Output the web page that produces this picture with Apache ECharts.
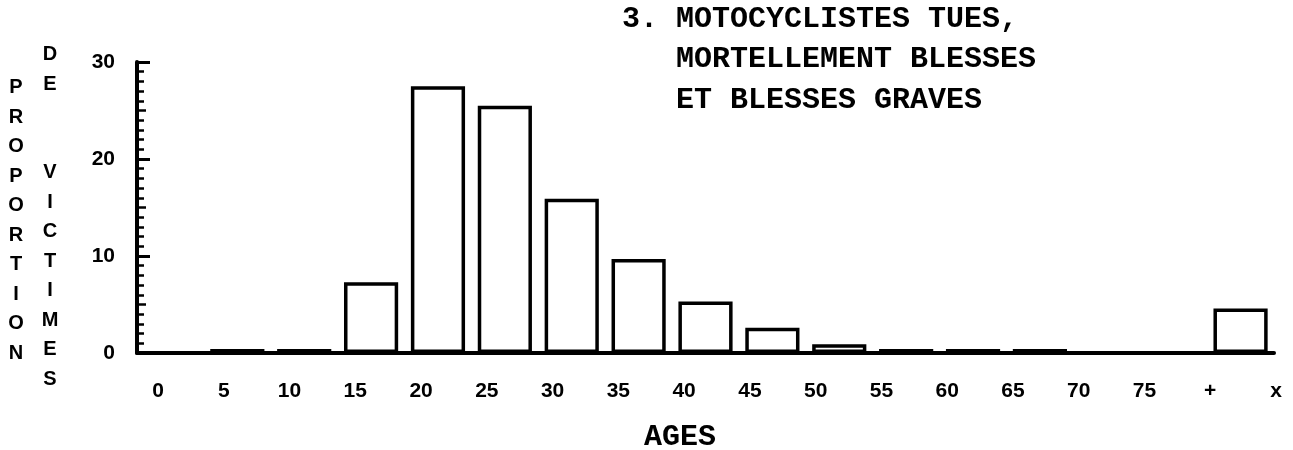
<!DOCTYPE html>
<html>
<head>
<meta charset="utf-8">
<script src="https://cdn.jsdelivr.net/npm/echarts@6/dist/echarts.min.js"></script>
<style>
html,body{margin:0;padding:0;background:#fff;}
#main{width:1293px;height:450px;}
</style>
</head>
<body>
<div id="main"></div>
<script>
// classes d'age (une barre par classe)
var ageBins=['0-5','5-10','10-15','15-20','20-25','25-30','30-35','35-40','40-45','45-50','50-55','55-60','60-65','65-70','70-75','75-+','+-x'];
// proportion de victimes (%)
var victimShare=[0,0.4,0.4,7.3,27.5,25.5,15.9,9.7,5.3,2.6,0.9,0.4,0.4,0.4,0,0,4.6];
// graduations sous l'axe
var xTickLabels=['0','5','10','15','20','25','30','35','40','45','50','55','60','65','70','75','+','x'];
var yMax=30;

var sansBold={fontFamily:'"Liberation Sans", Arial, sans-serif',fontWeight:'bold',fontSize:21,color:'#000'};
var monoFont='bold 30px "Liberation Mono", "Courier New", monospace';

var myChart=echarts.init(document.getElementById('main'));
myChart.setOption({
	backgroundColor:'#fff',
	animation:false,
	grid:[
		{left:137,right:19,top:62,bottom:97},
		{left:158,right:17,top:62,bottom:97} //grille des etiquettes
	],
	xAxis:[
		{
			type:'category',
			data:ageBins,
			gridIndex:0,
			boundaryGap:true,
			axisLine:{show:true,lineStyle:{color:'#000',width:4}},
			axisTick:{show:false},
			axisLabel:{show:false},
			splitLine:{show:false}
		},
		{
			type:'value',
			gridIndex:1,
			min:0,
			max:xTickLabels.length-1,
			interval:1,
			axisLine:{show:false},
			axisTick:{show:false},
			splitLine:{show:false},
			axisLabel:Object.assign({
				margin:28,
				showMinLabel:true,
				showMaxLabel:true,
				formatter:function(v){return xTickLabels[v]||'';}
			},sansBold)
		}
	],
	yAxis:[
		{
			type:'value',
			gridIndex:0,
			min:0,
			max:yMax,
			interval:10,
			axisLine:{show:true,lineStyle:{color:'#000',width:4}},
			axisTick:{show:true,inside:true,length:13,lineStyle:{color:'#000',width:3}},
			minorTick:{show:true,splitNumber:10,length:7,lineStyle:{color:'#000',width:2.5}},
			axisLabel:Object.assign({margin:22},sansBold),
			splitLine:{show:false}
		},
		{
			type:'value',
			gridIndex:0,
			position:'left',
			min:0,
			max:yMax,
			interval:5,
			axisLine:{show:false},
			axisTick:{show:true,inside:true,length:9,lineStyle:{color:'#000',width:2.5}},
			axisLabel:{show:false},
			splitLine:{show:false}
		},
		{type:'value',gridIndex:1,show:false,min:0,max:yMax}
	],
	series:[
		{
			type:'bar',
			xAxisIndex:0,
			yAxisIndex:0,
			data:victimShare,
			barCategoryGap:'19%',
			itemStyle:{color:'#fff',borderColor:'#000',borderWidth:3.5}
		}
	],
	graphic:[
		{type:'text',style:{text:'3. MOTOCYCLISTES TUES,',x:622,y:19,font:monoFont,fill:'#000',textAlign:'left',textVerticalAlign:'middle'}},
		{type:'text',style:{text:'MORTELLEMENT BLESSES',x:676,y:59,font:monoFont,fill:'#000',textAlign:'left',textVerticalAlign:'middle'}},
		{type:'text',style:{text:'ET BLESSES GRAVES',x:676,y:100,font:monoFont,fill:'#000',textAlign:'left',textVerticalAlign:'middle'}},
		{type:'text',style:{text:'AGES',x:680,y:437,font:monoFont,fill:'#000',textAlign:'center',textVerticalAlign:'middle'}},
		//titre vertical de l'axe y
		{type:'text',style:{text:'P\nR\nO\nP\nO\nR\nT\nI\nO\nN',x:16,y:73,lineHeight:29.5,font:'bold 20px "Liberation Sans", Arial, sans-serif',fill:'#000',textAlign:'center',textVerticalAlign:'top'}},
		{type:'text',style:{text:'D\nE\n \n \nV\nI\nC\nT\nI\nM\nE\nS',x:50,y:40,lineHeight:29.5,font:'bold 20px "Liberation Sans", Arial, sans-serif',fill:'#000',textAlign:'center',textVerticalAlign:'top'}}
	]
});
</script>
</body>
</html>
